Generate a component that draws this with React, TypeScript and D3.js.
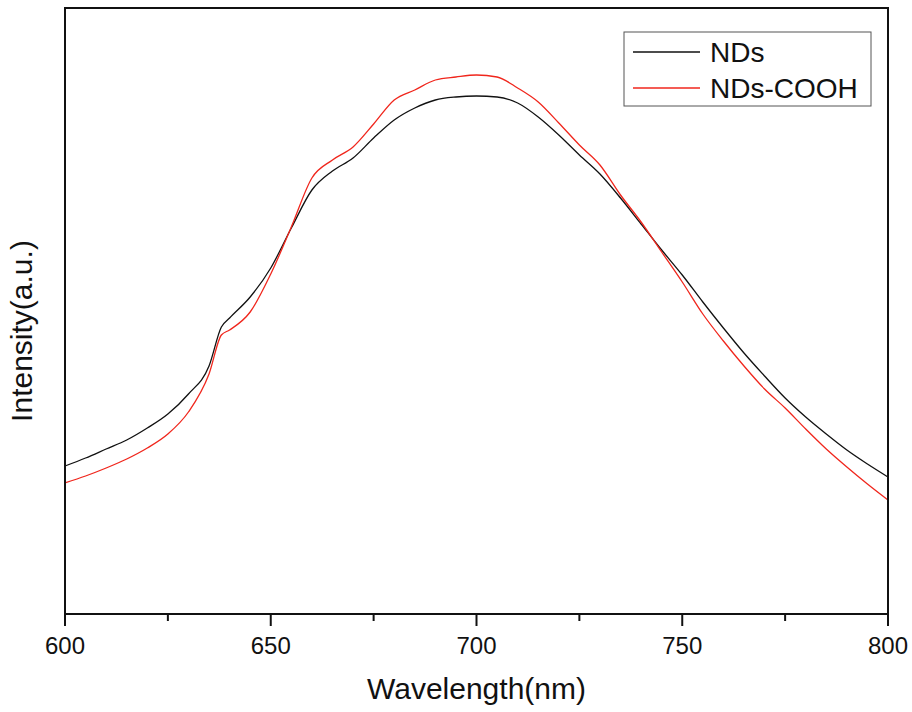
import React from "react";
import * as d3 from "d3";

// wavelength (nm), every 5 nm (plus the little kink near 638)
const wavelengths = [
  600, 605, 610, 615, 620, 625, 630, 635, 638, 640, 645, 650, 655, 660, 665,
  670, 675, 680, 685, 690, 695, 700, 705, 710, 715, 720, 725, 730, 735, 740,
  745, 750, 755, 760, 765, 770, 775, 780, 785, 790, 795, 800,
];

// intensities in arbitrary units (a.u.)
const ndsValues = [
  148, 156, 165, 174, 186, 200, 220, 248, 287, 296, 317, 346, 386, 424, 443,
  456, 476, 494, 506, 514, 517, 518, 517, 511, 497, 479, 459, 440, 416, 390,
  364, 339, 312, 286, 261, 238, 216, 197, 180, 164, 150, 137,
];
const coohValues = [
  131, 138, 146, 155, 166, 180, 202, 240, 279, 284, 302, 340, 387, 436, 454,
  467, 490, 514, 524, 534, 537, 539, 537, 526, 512, 491, 469, 449, 419, 392,
  362, 332, 300, 273, 248, 225, 206, 185, 165, 147, 130, 114,
];

const xTicks = [600, 650, 700, 750, 800];
const xMinorTicks = [625, 675, 725, 775];

const series = [
  { name: "NDs", values: ndsValues, color: "#111111" },
  { name: "NDs-COOH", values: coohValues, color: "#f0261c" },
];

const W = 912;
const H = 712;
const margin = { top: 8, right: 24, bottom: 98, left: 65 };
const FONT = "'Liberation Sans', Arial, sans-serif";

export default function App() {
  const innerW = W - margin.left - margin.right;
  const innerH = H - margin.top - margin.bottom;

  const x = d3.scaleLinear().domain([600, 800]).range([0, innerW]);
  const y = d3.scaleLinear().domain([0, 606]).range([innerH, 0]);

  const line = (vals: number[]) =>
    d3
      .line<number>()
      .x((_, i) => x(wavelengths[i]))
      .y((d) => y(d))
      .curve(d3.curveMonotoneX)(vals) || "";

  return (
    <svg
      width={W}
      height={H}
      style={{ position: "absolute", left: 0, top: 0, background: "#fff" }}
    >
      <g transform={`translate(${margin.left},${margin.top})`}>
        {series.map((s) => (
          <path
            key={s.name}
            d={line(s.values)}
            fill="none"
            stroke={s.color}
            strokeWidth={1.3}
          />
        ))}

        {/* frame */}
        <rect
          x={0}
          y={0}
          width={innerW}
          height={innerH}
          fill="none"
          stroke="#111"
          strokeWidth={2}
        />

        {/* bottom ticks */}
        {xTicks.map((t) => (
          <g key={t} transform={`translate(${x(t)},${innerH})`}>
            <line y1={0} y2={12} stroke="#111" strokeWidth={2} />
            <text
              y={40}
              textAnchor="middle"
              fontFamily={FONT}
              fontSize={24}
              fill="#111"
            >
              {t}
            </text>
          </g>
        ))}
        {xMinorTicks.map((t) => (
          <line
            key={t}
            x1={x(t)}
            x2={x(t)}
            y1={innerH}
            y2={innerH + 7}
            stroke="#111"
            strokeWidth={2}
          />
        ))}

        {/* axis titles */}
        <text
          x={innerW / 2}
          y={innerH + 85}
          textAnchor="middle"
          fontFamily={FONT}
          fontSize={30}
          fill="#111"
        >
          Wavelength(nm)
        </text>
        <text
          transform={`translate(${-33},${innerH / 2 + 20}) rotate(-90)`}
          textAnchor="middle"
          fontFamily={FONT}
          fontSize={30}
          fill="#111"
        >
          Intensity(a.u.)
        </text>

        {/* legend */}
        <g transform={`translate(${624 - margin.left},${32 - margin.top})`}>
          <rect
            width={247}
            height={74}
            fill="#fff"
            stroke="#555"
            strokeWidth={1}
          />
          {series.map((s, i) => (
            <g key={s.name} transform={`translate(0,${20 + i * 36})`}>
              <line x1={9} x2={76} stroke={s.color} strokeWidth={1.3} />
              <text
                x={86}
                y={10}
                fontFamily={FONT}
                fontSize={28}
                fill="#111"
              >
                {s.name}
              </text>
            </g>
          ))}
        </g>
      </g>
    </svg>
  );
}
